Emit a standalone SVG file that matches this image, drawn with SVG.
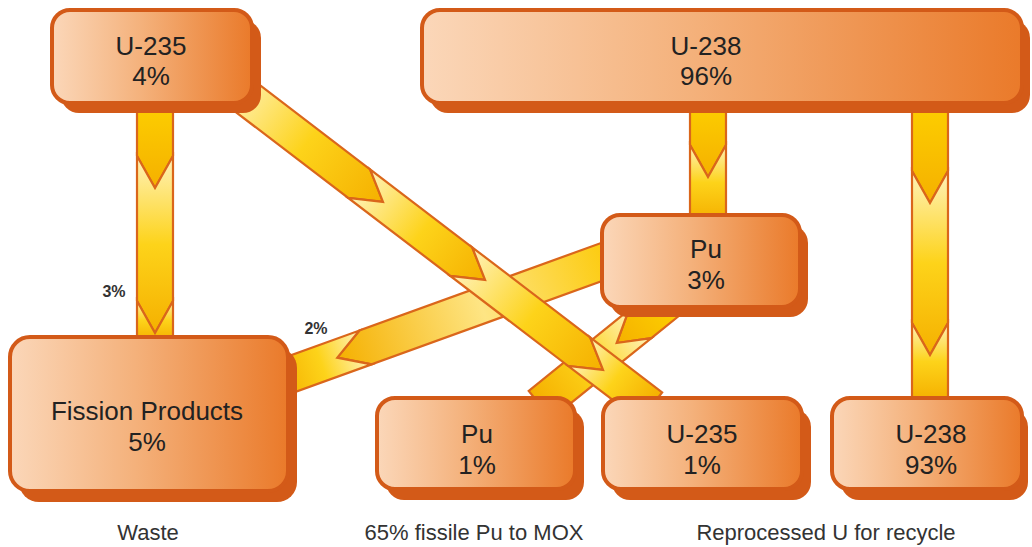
<svg xmlns="http://www.w3.org/2000/svg" width="1032" height="547" viewBox="0 0 1032 547">
<defs>
<linearGradient id="gBox" x1="0" y1="0" x2="1" y2="0">
<stop offset="0" stop-color="#fbd7b9"/>
<stop offset="0.45" stop-color="#f4b17b"/>
<stop offset="1" stop-color="#ea7a2a"/>
</linearGradient>
<linearGradient id="gSat" x1="0" y1="0" x2="1" y2="0">
<stop offset="0" stop-color="#fdd000"/>
<stop offset="1" stop-color="#f5b000"/>
</linearGradient>
<linearGradient id="gSeg" x1="0" y1="0" x2="1" y2="0">
<stop offset="0" stop-color="#fff2ba"/>
<stop offset="0.5" stop-color="#fdd31a"/>
<stop offset="1" stop-color="#f5b000"/>
</linearGradient>
<linearGradient id="gMid" x1="0" y1="0" x2="1" y2="0">
<stop offset="0" stop-color="#fcc800"/>
<stop offset="0.5" stop-color="#fee584"/>
<stop offset="1" stop-color="#f5b000"/>
</linearGradient>
</defs>
<style>
.shadow{fill:#d35a18}
.box{fill:url(#gBox);stroke:#d35a18;stroke-width:4}
.t{font-family:"Liberation Sans",Arial,sans-serif;font-size:26px;fill:#222;text-anchor:middle}
.cap{font-family:"Liberation Sans",Arial,sans-serif;font-size:22px;fill:#333;text-anchor:middle}
.pct{font-family:"Liberation Sans",Arial,sans-serif;font-size:16px;font-weight:bold;fill:#333;text-anchor:middle}
.seg{stroke:#da661b;stroke-width:2.2;stroke-linejoin:miter}
.sat{fill:url(#gSat)}
.lt{fill:url(#gSeg)}
.mid{fill:url(#gMid)}
</style>
<rect width="1032" height="547" fill="#fff"/>
<g id="connectors">
<g id="pu3-fp" transform="translate(625,253.5) rotate(160.1)">
<polygon class="seg mid" points="0,-18 276,-18 306,0 276,18 0,18"/>
<polygon class="seg lt" points="276,-18 370,-18 370,18 276,18 306,0"/>
</g>
<g id="pu3-pu1" transform="translate(670,300) rotate(141.1)">
<polygon class="seg sat" points="0,-18 38.5,-18 68.5,0 38.5,18 0,18"/>
<polygon class="seg lt" points="38.5,-18 167,-18 167,18 38.5,18 68.5,0"/>
</g>
<g id="u235-fp" transform="translate(155,100) rotate(90)">
<polygon class="seg sat" points="0,-18 56,-18 88,0 56,18 0,18"/>
<polygon class="seg lt" points="56,-18 201,-18 233,0 201,18 56,18 88,0"/>
<polygon class="seg lt" points="201,-18 240,-18 240,18 201,18 233,0"/>
</g>
<g id="u238-pu3" transform="translate(708,100) rotate(90)">
<polygon class="seg sat" points="0,-18 45,-18 77,0 45,18 0,18"/>
<polygon class="seg lt" points="45,-18 120,-18 120,18 45,18 77,0"/>
</g>
<g id="u238-u238" transform="translate(930,100) rotate(90)">
<polygon class="seg sat" points="0,-18 71,-18 103,0 71,18 0,18"/>
<polygon class="seg lt" points="71,-18 223,-18 255,0 223,18 71,18 103,0"/>
<polygon class="seg lt" points="223,-18 300,-18 300,18 223,18 255,0"/>
</g>
<g id="u235-u235" transform="translate(230,85) rotate(37.37)">
<polygon class="seg lt" points="0,-18 162.5,-18 192.5,0 162.5,18 0,18"/>
<polygon class="seg lt" points="162.5,-18 291,-18 321,0 291,18 162.5,18 192.5,0"/>
<polygon class="seg lt" points="291,-18 439.4,-18 469.4,0 439.4,18 291,18 321,0"/>
<polygon class="seg lt" points="439.4,-18 530,-18 530,18 439.4,18 469.4,0"/>
</g>
</g>
<g id="node-u235">
<rect class="shadow" x="61" y="20" width="200" height="93" rx="18"/>
<rect class="box" x="52" y="10" width="200" height="93" rx="18"/>
<text class="t" x="151" y="55">U-235</text>
<text class="t" x="151" y="85">4%</text>
</g>
<g id="node-u238">
<rect class="shadow" x="430" y="20" width="600" height="93" rx="18"/>
<rect class="box" x="422" y="10" width="600" height="93" rx="18"/>
<text class="t" x="706" y="55">U-238</text>
<text class="t" x="706" y="85">96%</text>
</g>
<g id="node-pu3">
<rect class="shadow" x="610" y="225" width="198" height="92" rx="18"/>
<rect class="box" x="602" y="215" width="198" height="92" rx="18"/>
<text class="t" x="706" y="258">Pu</text>
<text class="t" x="706" y="289">3%</text>
</g>
<g id="node-fp">
<rect class="shadow" x="19" y="348" width="278" height="154" rx="20"/>
<rect class="box" x="10" y="337" width="278" height="154" rx="20"/>
<text class="t" x="147" y="420">Fission Products</text>
<text class="t" x="147" y="451">5%</text>
</g>
<g id="node-pu1">
<rect class="shadow" x="386" y="409" width="198" height="91" rx="18"/>
<rect class="box" x="377" y="398" width="198" height="91" rx="18"/>
<text class="t" x="477" y="443">Pu</text>
<text class="t" x="477" y="474">1%</text>
</g>
<g id="node-u235b">
<rect class="shadow" x="612" y="409" width="199" height="91" rx="18"/>
<rect class="box" x="603" y="398" width="199" height="91" rx="18"/>
<text class="t" x="702" y="443">U-235</text>
<text class="t" x="702" y="474">1%</text>
</g>
<g id="node-u238b">
<rect class="shadow" x="841" y="409" width="187" height="91" rx="18"/>
<rect class="box" x="832" y="398" width="190" height="91" rx="18"/>
<text class="t" x="931" y="443">U-238</text>
<text class="t" x="931" y="474">93%</text>
</g>
<g id="labels">
<text class="pct" x="114" y="297">3%</text>
<text class="pct" x="316" y="334">2%</text>
<text class="cap" x="148" y="540">Waste</text>
<text class="cap" x="474" y="540">65% fissile Pu to MOX</text>
<text class="cap" x="826" y="540">Reprocessed U for recycle</text>
</g>
</svg>
